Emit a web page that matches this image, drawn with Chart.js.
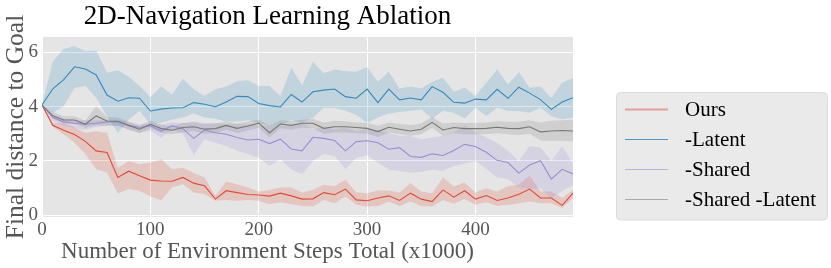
<!DOCTYPE html>
<html><head><meta charset="utf-8">
<script src="https://cdn.jsdelivr.net/npm/chart.js@4/dist/chart.umd.min.js"></script>
<style>html,body{margin:0;padding:0;background:#fff;}</style>
</head><body>
<canvas id="c" width="831" height="268"></canvas>
<script>
const steps = [0,10,20,30,40,50,60,70,80,90,100,110,120,130,140,150,160,170,180,190,200,210,220,230,240,250,260,270,280,290,300,310,320,330,340,350,360,370,380,390,400,410,420,430,440,450,460,470,480,490];

const seriesLabels = ["Ours", "-Latent", "-Shared", "-Shared -Latent"];

const oursMean = [4.06,3.31,3.13,2.97,2.72,2.37,2.31,1.39,1.62,1.45,1.29,1.26,1.25,1.39,1.18,1.08,0.59,0.9,0.83,0.76,0.74,0.7,0.81,0.71,0.59,0.6,0.83,0.75,0.96,0.56,0.53,0.63,0.71,0.54,0.81,0.59,0.5,0.93,0.66,0.9,0.59,0.72,0.54,0.63,0.77,0.96,0.63,0.63,0.36,0.81];
const oursUpper = [4.06,3.4,3.39,3.23,3.04,3.09,3.04,1.75,2.0,1.88,1.94,2.06,1.69,1.75,1.55,1.39,0.71,1.24,1.14,1.02,0.86,0.93,1.02,1.02,0.83,0.93,1.12,1.06,1.3,0.83,0.81,0.91,0.91,0.83,1.18,0.87,0.81,1.39,1.06,1.2,0.83,0.99,0.87,1.06,1.12,1.46,0.87,0.87,0.63,0.93];
const oursLower = [4.06,3.25,2.98,2.67,2.25,1.69,1.57,0.8,0.96,0.9,0.69,0.55,1.02,1.14,0.83,0.77,0.53,0.56,0.53,0.56,0.53,0.4,0.47,0.4,0.34,0.32,0.56,0.44,0.69,0.38,0.32,0.34,0.5,0.34,0.5,0.34,0.32,0.56,0.42,0.59,0.38,0.47,0.34,0.38,0.44,0.5,0.44,0.44,0.26,0.63];

const latentMean = [4.06,4.66,5.0,5.47,5.39,5.17,4.43,4.2,4.33,4.31,3.84,3.91,3.95,3.96,4.15,4.09,4.0,4.17,4.38,4.37,4.12,4.04,3.99,4.45,4.17,4.55,4.61,4.65,4.37,4.31,4.65,4.15,4.65,4.25,4.32,4.25,4.74,4.53,4.16,4.13,4.28,4.25,4.64,4.31,4.72,4.5,4.26,3.9,4.17,4.33];
const latentUpper = [4.06,5.68,6.13,6.23,6.05,6.07,5.25,5.34,5.1,4.76,4.36,4.74,4.45,5.03,4.64,4.39,4.64,4.74,4.94,4.97,4.76,4.76,4.39,5.44,4.79,5.66,5.23,5.37,5.31,5.29,5.45,4.92,5.29,4.67,4.74,4.67,4.92,5.07,4.55,4.7,4.39,4.88,5.37,4.82,5.28,4.7,4.74,4.33,4.88,5.07];
const latentLower = [4.06,3.78,4.02,4.7,4.76,4.33,3.66,3.04,3.53,3.84,3.35,3.41,3.53,3.6,3.75,3.6,3.55,3.45,3.45,3.5,3.4,3.3,3.3,3.5,3.4,3.6,3.95,3.95,3.85,3.7,3.4,3.6,3.75,3.8,3.85,3.9,3.55,3.85,3.78,3.56,3.96,3.66,3.96,3.84,3.84,3.78,3.96,3.66,3.53,3.6];

const sharedMean = [4.06,3.6,3.44,3.39,3.35,3.39,3.44,3.44,3.31,3.23,3.29,3.1,3.3,3.19,2.83,3.14,3.04,2.98,2.86,2.77,2.8,2.64,2.8,2.44,2.37,2.87,2.83,2.75,2.37,2.71,2.74,2.67,2.43,2.49,2.16,2.13,2.26,2.2,2.38,2.61,2.53,2.32,2.02,1.94,1.55,1.85,2.01,1.33,1.69,1.52];
const sharedUpper = [4.06,3.7,3.55,3.5,3.5,3.5,3.52,3.52,3.42,3.35,3.4,3.35,3.42,3.4,3.45,3.4,3.4,3.35,3.35,3.35,3.3,3.3,3.3,3.3,3.4,3.17,3.23,3.17,3.23,3.1,3.17,3.13,3.04,2.92,2.92,2.8,2.86,2.92,3.04,3.31,3.06,2.86,2.67,2.37,2.0,2.55,2.49,2.0,2.55,1.88];
const sharedLower = [4.06,3.45,3.3,3.2,3.15,3.25,3.3,3.3,3.15,3.05,3.1,2.85,3.15,3.0,2.22,2.8,2.67,2.55,2.37,2.25,2.12,1.82,2.06,1.69,1.51,2.0,2.25,2.18,1.69,2.12,2.2,1.94,1.67,1.63,1.57,1.6,1.67,1.63,1.81,1.9,2.0,1.7,1.4,1.33,1.02,0.96,1.0,0.6,0.9,1.1];

const bothMean = [4.06,3.66,3.51,3.51,3.35,3.66,3.47,3.46,3.31,3.17,3.35,3.19,3.13,3.23,3.26,3.17,3.19,3.31,3.2,3.29,3.39,3.04,3.36,3.31,3.39,3.39,3.2,3.26,3.26,3.23,3.2,3.08,3.24,3.17,3.1,3.17,3.42,3.14,3.23,3.19,3.19,3.2,3.24,3.2,3.19,3.26,3.07,3.1,3.12,3.1];
const bothUpper = [4.06,3.8,3.65,3.65,3.48,4.02,3.62,3.6,3.45,3.3,3.48,3.32,3.28,3.4,3.42,3.35,3.38,3.45,3.38,3.45,3.52,3.3,3.5,3.46,3.52,3.55,3.42,3.48,3.46,3.42,3.4,3.3,3.42,3.36,3.32,3.38,3.62,3.38,3.42,3.4,3.4,3.42,3.46,3.44,3.44,3.5,3.42,3.48,3.5,3.52];
const bothLower = [4.06,3.55,3.38,3.38,3.22,3.31,3.3,3.3,3.16,3.02,3.2,3.04,2.98,3.06,3.1,3.0,3.02,3.15,3.03,3.12,3.22,2.85,3.2,3.15,3.22,3.2,3.0,3.05,3.05,3.02,3.0,2.88,3.05,2.98,2.92,2.98,3.22,2.92,3.02,2.98,2.98,2.98,3.02,2.98,2.95,3.0,2.75,2.74,2.74,2.72];

const xTicks = [0,100,200,300,400];
const yTicks = [0,2,4,6];

const titleText = "2D-Navigation Learning Ablation";
const xTitleText = "Number of Environment Steps Total (x1000)";
const yTitleText = "Final distance to Goal";

const lineColors = ["#E24A33", "#348ABD", "#988ED5", "#777777"];
const bandColors = ["rgba(226,74,51,0.2)", "rgba(52,138,189,0.2)", "rgba(152,142,213,0.2)", "rgba(119,119,119,0.2)"];
const legendColors = ["rgba(226,74,51,0.45)", "rgba(52,138,189,0.85)", "rgba(152,142,213,0.6)", "rgba(119,119,119,0.55)"];

const SERIF = '"Liberation Serif", "DejaVu Serif", serif';

function pts(ys) { return steps.map((s, i) => ({x: s, y: ys[i]})); }

const groups = [
  [oursMean, oursUpper, oursLower],
  [latentMean, latentUpper, latentLower],
  [sharedMean, sharedUpper, sharedLower],
  [bothMean, bothUpper, bothLower]
];

const datasets = [];
groups.forEach((g, k) => {
  const base = datasets.length;
  datasets.push({label: seriesLabels[k] + " upper", data: pts(g[1]), borderWidth: 0, pointRadius: 0, fill: false, order: 20 - k, tension: 0, borderColor: "rgba(0,0,0,0)"});
  datasets.push({label: seriesLabels[k] + " lower", data: pts(g[2]), borderWidth: 0, pointRadius: 0, fill: base, backgroundColor: bandColors[k], order: 20 - k, tension: 0, borderColor: "rgba(0,0,0,0)"});
  datasets.push({label: seriesLabels[k], data: pts(g[0]), borderWidth: 1.1, pointRadius: 0, fill: false, borderColor: lineColors[k], order: 10 - k, tension: 0});
});

const textPlugin = {
  id: 'textPlugin',
  afterDraw(chart) {
    const ctx = chart.ctx;
    ctx.save();
    // title
    ctx.fillStyle = '#000';
    ctx.font = '27px ' + SERIF;
    ctx.textAlign = 'center';
    ctx.textBaseline = 'alphabetic';
    ctx.fillText(titleText, 267.5, 24);
    // x title
    ctx.fillStyle = '#555';
    ctx.font = '23px ' + SERIF;
    ctx.fillText(xTitleText, 267.5, 258);
    // y title
    ctx.save();
    ctx.translate(23, 127);
    ctx.rotate(-Math.PI / 2);
    ctx.font = '25.5px ' + SERIF;
    ctx.fillText(yTitleText, 0, 0);
    ctx.restore();
    // legend
    const bx = 616.5, by = 92.5, bw = 211, bh = 127.5, r = 4;
    ctx.beginPath();
    ctx.moveTo(bx + r, by);
    ctx.lineTo(bx + bw - r, by); ctx.quadraticCurveTo(bx + bw, by, bx + bw, by + r);
    ctx.lineTo(bx + bw, by + bh - r); ctx.quadraticCurveTo(bx + bw, by + bh, bx + bw - r, by + bh);
    ctx.lineTo(bx + r, by + bh); ctx.quadraticCurveTo(bx, by + bh, bx, by + bh - r);
    ctx.lineTo(bx, by + r); ctx.quadraticCurveTo(bx, by, bx + r, by);
    ctx.closePath();
    ctx.fillStyle = '#EAEAEA';
    ctx.fill();
    ctx.strokeStyle = '#DCDCDC';
    ctx.lineWidth = 1;
    ctx.stroke();
    const rowY = [109.5, 139.5, 169.5, 199.5];
    ctx.textAlign = 'left';
    ctx.textBaseline = 'middle';
    ctx.font = '21px ' + SERIF;
    seriesLabels.forEach((lab, i) => {
      ctx.beginPath();
      ctx.moveTo(625, rowY[i]);
      ctx.lineTo(668, rowY[i]);
      ctx.strokeStyle = legendColors[i];
      ctx.lineWidth = i === 0 ? 2 : 1.2;
      ctx.stroke();
      ctx.fillStyle = '#000';
      ctx.fillText(lab, 685, rowY[i] + 1);
    });
    ctx.restore();
  }
};

const bgPlugin = {
  id: 'bgPlugin',
  beforeDraw(chart) {
    const a = chart.chartArea, ctx = chart.ctx;
    ctx.save();
    ctx.fillStyle = '#fff';
    ctx.fillRect(0, 0, chart.width, chart.height);
    ctx.fillStyle = '#E5E5E5';
    ctx.fillRect(a.left, a.top, a.right - a.left, a.bottom - a.top);
    ctx.restore();
  }
};

new Chart(document.getElementById('c'), {
  type: 'line',
  data: { datasets },
  plugins: [bgPlugin, textPlugin],
  options: {
    responsive: false,
    animation: false,
    devicePixelRatio: 1,
    layout: { padding: { top: 37, right: 258, left: 0, bottom: 0 } },
    plugins: { legend: { display: false }, title: { display: false }, tooltip: { enabled: false },
      filler: { propagate: false } },
    scales: {
      x: {
        type: 'linear', min: 0, max: 490,
        afterFit(s) { s.height = 51; },
        afterBuildTicks(s) { s.ticks = xTicks.map(v => ({value: v})); },
        grid: { color: '#FFFFFF', lineWidth: 1, drawTicks: false },
        border: { display: false },
        ticks: { color: '#555', font: { family: SERIF, size: 19 }, padding: 2, maxRotation: 0 }
      },
      y: {
        type: 'linear', min: -0.07, max: 6.57,
        afterFit(s) { s.width = 42; },
        afterBuildTicks(s) { s.ticks = yTicks.map(v => ({value: v})); },
        grid: { color: '#FFFFFF', lineWidth: 1, drawTicks: false },
        border: { display: false },
        ticks: { color: '#555', font: { family: SERIF, size: 19 }, padding: 4 }
      }
    }
  }
});
</script>
</body></html>
